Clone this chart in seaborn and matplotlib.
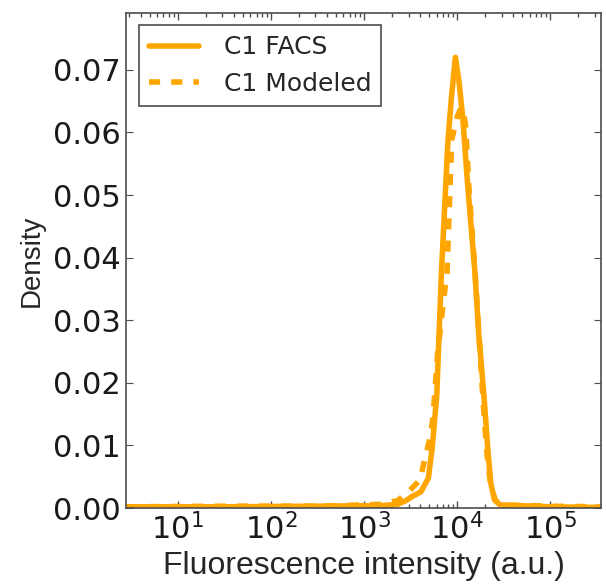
import numpy as np
import seaborn as sns
import matplotlib
matplotlib.use('Agg')
import matplotlib.pyplot as plt
from matplotlib.ticker import LogLocator, NullFormatter

# log10 of fluorescence intensity and density
facs_log_x = [0.44, 1.5, 2.5, 3.2, 3.36, 3.45, 3.51, 3.61, 3.69, 3.73, 3.78, 3.83,
              3.90, 3.94, 3.98, 4.02, 4.06, 4.11, 4.19, 4.23, 4.29, 4.33, 4.36,
              4.40, 4.46, 5.0, 5.55]
facs_density = [0.0002, 0.0002, 0.0003, 0.0004, 0.0006, 0.0012, 0.0018, 0.0026,
                0.0048, 0.0095, 0.0180, 0.0376, 0.0586, 0.0660, 0.0720, 0.0680,
                0.0622, 0.0520, 0.0376, 0.0280, 0.0173, 0.0090, 0.0040, 0.0013,
                0.0005, 0.0002, 0.0001]

model_log_x = [0.44, 1.5, 2.5, 3.2, 3.36, 3.47, 3.60, 3.65, 3.71, 3.74, 3.79, 3.85,
               3.89, 3.94, 4.00, 4.04, 4.07, 4.09, 4.13, 4.19, 4.24, 4.28, 4.32,
               4.36, 4.41, 4.48, 5.0, 5.55]
model_density = [0.0002, 0.0003, 0.0003, 0.0006, 0.0012, 0.0025, 0.0045, 0.0077,
                 0.0113, 0.0145, 0.0248, 0.0328, 0.0376, 0.0588, 0.0625, 0.0640,
                 0.0630, 0.0610, 0.0500, 0.0380, 0.0260, 0.0165, 0.0085, 0.0035,
                 0.0012, 0.0005, 0.0003, 0.0002]

orange = '#ffa500'

sns.set_style('ticks')
plt.rcParams.update({
    'xtick.direction': 'in', 'ytick.direction': 'in',
    'xtick.top': True, 'ytick.right': True,
    'xtick.major.size': 5, 'ytick.major.size': 5,
    'xtick.minor.size': 3, 'ytick.minor.size': 3,
    'xtick.minor.width': 1, 'xtick.major.width': 1,
    'xtick.color': '0.3', 'ytick.color': '0.3',
    'xtick.labelcolor': '0.1', 'ytick.labelcolor': '0.1',
})
plt.rcParams['font.family'] = ['DejaVu Sans']

fig, ax = plt.subplots(figsize=(6.06, 5.86), dpi=100)
fig.subplots_adjust(left=0.208, right=0.992, bottom=0.133, top=0.978)

sns.lineplot(x=10 ** np.array(facs_log_x), y=facs_density, ax=ax, color=orange,
             lw=4, label='C1 FACS')
sns.lineplot(x=10 ** np.array(model_log_x), y=model_density, ax=ax, color=orange,
             lw=4, linestyle=(0, (2, 2)), label='C1 Modeled')

ax.set_xscale('log')
ax.set_xlim(10 ** 0.444, 10 ** 5.545)
ax.set_ylim(0, 0.0791)
ax.set_yticks([0, 0.01, 0.02, 0.03, 0.04, 0.05, 0.06, 0.07])
ax.set_xticks([1e1, 1e2, 1e3, 1e4, 1e5])
ax.xaxis.set_minor_locator(LogLocator(base=10, subs=np.arange(2, 10), numticks=20))
ax.xaxis.set_minor_formatter(NullFormatter())
ax.tick_params(labelsize=22)
ax.tick_params(which='minor', direction='in', top=True, bottom=True)
for s in ax.spines.values():
    s.set_color('0.3')
    s.set_linewidth(1.2)

ax.set_xlabel('Fluorescence intensity (a.u.)', fontsize=23, family='Liberation Sans')
ax.set_ylabel('Density', fontsize=20, family='Liberation Sans', labelpad=6)

leg = ax.legend(loc='upper left', fontsize=18, fancybox=False, frameon=True,
                borderaxespad=0.5, handlelength=2.0, handletextpad=1.0)
leg.get_frame().set_edgecolor('0.3')
leg.get_frame().set_linewidth(1.2)
leg.get_frame().set_alpha(1)

fig.savefig('out.png', dpi=100)
